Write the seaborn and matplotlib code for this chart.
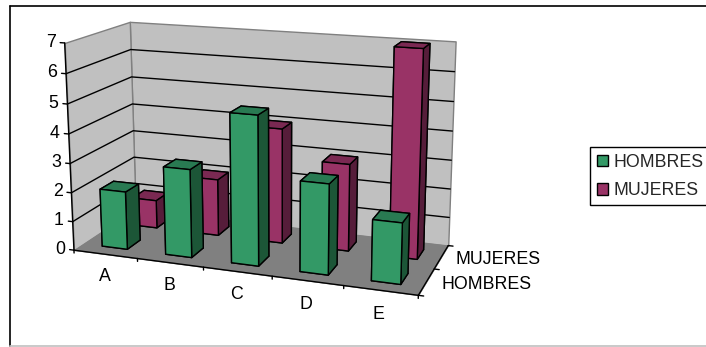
import numpy as np
import matplotlib
matplotlib.use("Agg")
import matplotlib.pyplot as plt
import seaborn as sns
from matplotlib.lines import Line2D
from matplotlib.patches import Patch, Rectangle
from mpl_toolkits.mplot3d.art3d import Poly3DCollection

# Survey counts per group
categories = ["A", "B", "C", "D", "E"]
series_names = ["HOMBRES", "MUJERES"]
hombres = [2, 3, 5, 3, 2]
mujeres = [1, 2, 4, 3, 7]
value_ticks = list(range(8))

# Palette: front, side and top shade of each series
GREEN = ("#339966", "#1c5637", "#297a52")
PURPLE = ("#993366", "#561d3a", "#7a2952")
WALL = "#c0c0c0"
FLOOR = "#808080"

W, H = 706, 347
sns.set_theme(style="white", rc={"font.family": ["Liberation Sans", "DejaVu Sans"]})

fig = plt.figure(figsize=(W / 100, H / 100), dpi=100, facecolor="white")
ax = fig.add_axes([0, -0.52, 1, 2.04], projection="3d", computed_zorder=False)
ax.patch.set_visible(False)
ax.set_axis_off()
ax.set_proj_type("ortho")

# Camera calibration: box corners (category, series, value) and their screen position
anchors = [
    ((0, 0, 0), (73, 250.5)), ((0, 0, 1), (72.5, 221)), ((0, 0, 2), (72, 192.7)),
    ((0, 0, 3), (71, 163)), ((0, 0, 4), (69, 134)), ((0, 0, 5), (67.5, 104)),
    ((0, 0, 6), (66, 73)), ((0, 0, 7), (65, 42.5)),
    ((0, 2, 7), (129, 22)), ((0, 2, 6), (130, 50)), ((0, 2, 5), (131, 77)),
    ((0, 2, 4), (132.5, 104)), ((0, 2, 3), (133.5, 131)), ((0, 2, 2), (134.5, 157)),
    ((1, 0, 0), (138, 258)), ((2, 0, 0), (203, 269)), ((3, 0, 0), (272, 277)),
    ((4, 0, 0), (343, 287)), ((5, 0, 0), (417, 295)),
    ((5, 2, 0), (448, 245)), ((5, 2, 7), (456, 42)), ((5, 1, 0), (436, 267)),
]


def fit_camera(pairs):
    rows = []
    for (x, y, z), (u, v) in pairs:
        u, v = u / 100, (H - v) / 100
        rows.append([x, y, z, 1, 0, 0, 0, 0, -u * x, -u * y, -u * z, -u])
        rows.append([0, 0, 0, 0, x, y, z, 1, -v * x, -v * y, -v * z, -v])
    P = np.linalg.svd(np.array(rows))[2][-1].reshape(3, 4)
    P = P / P[2, 3]
    P[:2] *= 100
    return P


camera = fit_camera(anchors)


def projection():
    Q = ax.transData.inverted().get_matrix() @ camera
    w = Q[2]
    return np.vstack([Q[0], Q[1], w - np.array([0, 0, 0, 1.0]), w])


ax.get_proj = projection


def label(x, y, z, text, **kw):
    # Screen-anchored text placed at the projected position of a box point
    px, py, pw = camera @ np.array([x, y, z, 1.0])
    fig.text(px / pw / W, py / pw / H, text, va="center", fontsize=FONT, color="black", **kw)


XMAX, YMAX, ZMAX = len(categories), len(series_names), value_ticks[-1]
ax.set_xlim(0, XMAX)
ax.set_ylim(0, YMAX)
ax.set_zlim(0, ZMAX)
ax.set_autoscale_on(False)

# Walls and floor of the box
panes = [
    ([(0, YMAX, 0), (XMAX, YMAX, 0), (XMAX, YMAX, ZMAX), (0, YMAX, ZMAX)], WALL),
    ([(0, 0, 0), (0, YMAX, 0), (0, YMAX, ZMAX), (0, 0, ZMAX)], WALL),
]
for corners, shade in panes:
    ax.add_collection3d(Poly3DCollection([corners], facecolors=shade, edgecolors="#808080",
                                         linewidths=1.0, zorder=1))

# Gridlines run along the left wall and the back wall
for v in value_ticks[1:-1]:
    ax.plot([0, 0, XMAX], [0, YMAX, YMAX], [v, v, v], color="black", lw=1.0, zorder=2)

ax.add_collection3d(Poly3DCollection([[(0, 0, 0), (XMAX, 0, 0), (XMAX, YMAX, 0), (0, YMAX, 0)]],
                                     facecolors=FLOOR, edgecolors=FLOOR, linewidths=0.5, zorder=3))

# Axis lines and tick marks
AXIS = dict(color="black", lw=1.0, zorder=4)
ax.plot([0, 0], [0, 0], [0, ZMAX], **AXIS)
ax.plot([0, XMAX], [0, 0], [0, 0], **AXIS)
ax.plot([XMAX, XMAX], [0, YMAX], [0, 0], **AXIS)
for v in value_ticks:
    ax.plot([-0.07, 0], [0, 0], [v, v], **AXIS)
for i in range(XMAX + 1):
    ax.plot([i, i], [0, 0], [0, -0.1], **AXIS)
for j in range(YMAX + 1):
    ax.plot([XMAX, XMAX + 0.07], [j, j], [0, 0], **AXIS)

# Bars: back row first, each row from left to right
BAR_W, BAR_D = 0.4, 0.42
order = 10
for row, (values, shades) in reversed(list(enumerate(((hombres, GREEN), (mujeres, PURPLE))))):
    front, side, top = shades
    faces = [side, top, front, side, side, side]
    for i, value in enumerate(values):
        ax.bar3d(i + 0.5 - BAR_W / 2, row + 0.5 - BAR_D / 2, 0, BAR_W, BAR_D, value,
                 color=faces, edgecolor="black", linewidth=1.0, shade=False, zorder=order)
        order += 1

# Text labels
FONT = 12.8
for v in value_ticks:
    label(-0.14, 0, v, str(v), ha="right")
for i, name in enumerate(categories):
    label(i + 0.48, 0, -0.78, name, ha="center")
for j, name in enumerate(series_names):
    label(XMAX + 0.2, j + 0.5, -0.03, name, ha="left")

# Legend: the frame runs off the right side of the chart area
fig.add_artist(Rectangle((590 / W, 1 - 205 / H), 130 / W, 58 / H, transform=fig.transFigure,
                         facecolor="white", edgecolor="black", linewidth=1.0))
handles = [Patch(facecolor=c[0], edgecolor="black", linewidth=1.0) for c in (GREEN, PURPLE)]
fig.legend(handles, series_names, loc="center left", bbox_to_anchor=(597 / W, 1 - 176.5 / H),
           borderaxespad=0, fontsize=FONT, frameon=False, handlelength=0.62, handleheight=0.62,
           handletextpad=0.3, labelspacing=0.62, borderpad=0)

# Chart area border
fig.add_artist(Line2D([10 / W, 10 / W], [1 - 5.5 / H, 1 - 346 / H], color="black", lw=1.2))
fig.add_artist(Line2D([10 / W, 1], [1 - 5.5 / H, 1 - 5.5 / H], color="black", lw=1.2))
fig.add_artist(Line2D([10 / W, 1], [1 - 346 / H, 1 - 346 / H], color="#c0c0c0", lw=1.2))

fig.savefig("out.png", dpi=100, facecolor="white")
